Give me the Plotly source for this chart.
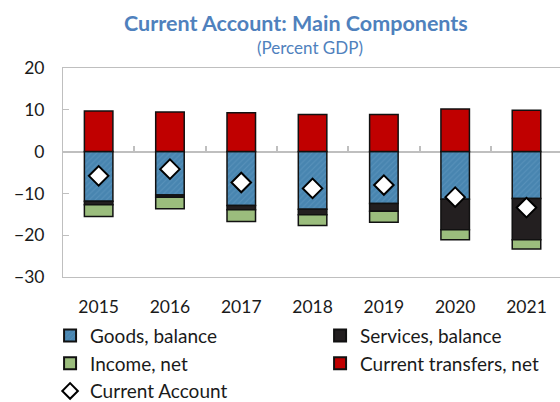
import plotly.graph_objects as go

years = ["2015", "2016", "2017", "2018", "2019", "2020", "2021"]
goods = [-11.9, -10.4, -12.9, -13.8, -12.4, -11.4, -11.2]
services = [-0.8, -0.5, -1.0, -1.3, -1.9, -7.3, -9.9]
income = [-2.8, -2.8, -2.8, -2.6, -2.6, -2.4, -2.2]
transfers = [9.7, 9.5, 9.3, 8.9, 8.9, 10.2, 9.9]
current_account = [-5.8, -4.2, -7.4, -8.8, -8.0, -10.9, -13.4]
y_ticks = [-30, -20, -10, 0, 10, 20]
boundaries = [0.5, 1.5, 2.5, 3.5, 4.5, 5.5]

FONT = "Lato"
TITLE_COLOR = "#4F81BD"
AXIS_GRAY = "#BFBFBF"

y_min, y_max = -30, 20

fig = go.Figure()
line = dict(color="#111111", width=1.5)
fig.add_trace(go.Bar(x=years, y=goods, name="Goods, balance",
                     marker=dict(color="#4885B0", line=line,
                                 pattern=dict(shape="/", fgcolor="#6A9FC6", size=4, solidity=0.25))))
fig.add_trace(go.Bar(x=years, y=services, name="Services, balance",
                     marker=dict(color="#231F20", line=line)))
fig.add_trace(go.Bar(x=years, y=income, name="Income, net",
                     marker=dict(color="#9BBD7D", line=line)))
fig.add_trace(go.Bar(x=years, y=transfers, name="Current transfers, net",
                     marker=dict(color="#C00000", line=line)))
fig.add_trace(go.Scatter(x=years, y=current_account, name="Current Account", mode="markers",
                         marker=dict(symbol="diamond", size=15, color="white",
                                     line=dict(color="black", width=2))))
fig.add_trace(go.Scatter(x=[None], y=[None], xaxis="x2", showlegend=False, hoverinfo="skip"))

zero_pos = (0 - y_min) / (y_max - y_min)
plot_h = 402 - 68 - 125

fig.update_layout(
    width=560, height=402,
    margin=dict(l=63, r=0, t=68, b=125, autoexpand=False),
    paper_bgcolor="white", plot_bgcolor="white",
    barmode="relative", bargap=0.6,
    font=dict(family=FONT, size=17.5, color="#1a1a1a"),
    annotations=[
        dict(text="<b>Current Account: Main Components</b>", xref="paper", yref="paper",
             x=(296-63)/497, xanchor="center", y=1 + (68-23)/plot_h, yanchor="middle",
             showarrow=False, font=dict(family=FONT, size=21.5, color=TITLE_COLOR)),
        dict(text="(Percent GDP)", xref="paper", yref="paper",
             x=(310-63)/497, xanchor="center", y=1 + (68-47)/plot_h, yanchor="middle",
             showarrow=False, font=dict(family=FONT, size=17, color=TITLE_COLOR)),
    ],
    xaxis=dict(type="category", range=[-0.5, 6.47], showline=True, linecolor=AXIS_GRAY,
               linewidth=1, mirror=True, ticks="", showgrid=False, zeroline=False,
               ticklabelstandoff=14),
    xaxis2=dict(overlaying="x", anchor="free", position=zero_pos, range=[-0.5, 6.47],
                tickvals=boundaries, ticks="inside", ticklen=6, tickwidth=1.5,
                tickcolor=AXIS_GRAY, showticklabels=False, showline=False, showgrid=False,
                zeroline=False, side="bottom"),
    yaxis=dict(range=[y_min, y_max], tickvals=y_ticks, showline=True, linecolor=AXIS_GRAY,
               linewidth=1, ticks="inside", ticklen=6, tickcolor=AXIS_GRAY, showgrid=False,
               zeroline=True, zerolinecolor=AXIS_GRAY, zerolinewidth=1.5,
               ticklabelstandoff=14),
    legend=dict(orientation="h", x=-0.026, xanchor="left", y=-0.19, yanchor="top",
                entrywidth=225, entrywidthmode="pixels", itemwidth=30, itemsizing="constant",
                font=dict(family=FONT, size=19, color="#1a1a1a"),
                tracegroupgap=0, bgcolor="rgba(0,0,0,0)"),
    showlegend=True,
)

fig.write_html("out.html", config={"displayModeBar": False},
               post_script="document.body.style.margin='0';document.body.style.padding='0';")
